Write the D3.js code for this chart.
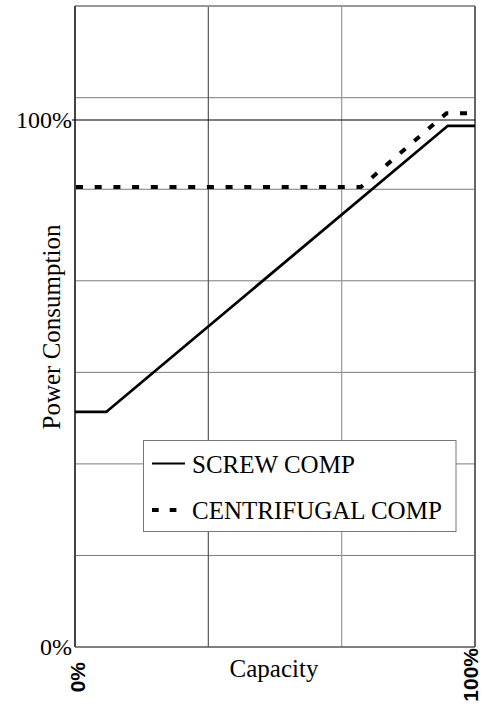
<!DOCTYPE html>
<html>
<head>
<meta charset="utf-8">
<script src="https://cdn.jsdelivr.net/npm/d3@7"></script>
<style>
html,body{margin:0;padding:0;background:#fff;}
svg{display:block;}
.serif{font-family:"Liberation Serif","DejaVu Serif","Noto Serif","Tinos","Times New Roman","Times","Nimbus Roman","FreeSerif",serif;}
.sansb{font-family:"Liberation Sans","DejaVu Sans",Arial,sans-serif;font-weight:bold;}
</style>
</head>
<body>
<svg id="chart" width="482" height="711"></svg>
<script>
// ---- data ----
const xTickValues = [0, 100];
const xTickLabels = ["0%", "100%"];
const yTickValues = [0, 100];
const yTickLabels = ["0%", "100%"];
const seriesNames = ["SCREW COMP", "CENTRIFUGAL COMP"];
const screwX = [0, 7.8, 93.2, 100];
const screwY = [44.6, 44.6, 98.9, 98.9];
const centX = [0, 71.5, 92.9, 100];
const centY = [87.3, 87.3, 101.3, 101.3];
const yAxisTop = 121.6;   // value at top of plot frame
const xTitle = "Capacity";
const yTitle = "Power Consumption";

// ---- layout ----
const L = 75, R = 475, T = 6, B = 647;
const svg = d3.select("#chart");
const x = d3.scaleLinear().domain([0, 100]).range([L, R]);
const y = d3.scaleLinear().domain([0, 100]).range([B, 120]);

// grid
const nRows = 7, nCols = 3;
const hGrid = d3.range(1, nRows).map(i => yAxisTop * i / nRows);
const vGrid = d3.range(1, nCols).map(i => 100 * i / nCols);
svg.append("g").selectAll("line").data(hGrid).join("line")
  .attr("x1", L).attr("x2", R).attr("y1", d => y(d)).attr("y2", d => y(d))
  .attr("stroke", "#7a7a7a").attr("stroke-width", 1);
svg.append("g").selectAll("line").data(vGrid).join("line")
  .attr("y1", T).attr("y2", B).attr("x1", d => x(d)).attr("x2", d => x(d))
  .attr("stroke", (d, i) => i === 0 ? "#555" : "#999").attr("stroke-width", 1.2);

// frame
svg.append("line").attr("x1", L).attr("x2", R).attr("y1", T).attr("y2", T).attr("stroke", "#999").attr("stroke-width", 2);
svg.append("line").attr("x1", R).attr("x2", R).attr("y1", T).attr("y2", B).attr("stroke", "#666").attr("stroke-width", 2);
svg.append("line").attr("x1", L).attr("x2", R).attr("y1", B).attr("y2", B).attr("stroke", "#555").attr("stroke-width", 1.5);
svg.append("line").attr("x1", L).attr("x2", L).attr("y1", T).attr("y2", B).attr("stroke", "#444").attr("stroke-width", 2);

// 100% reference line
svg.append("line").attr("x1", L - 3).attr("x2", R).attr("y1", y(100)).attr("y2", y(100))
  .attr("stroke", "#000").attr("stroke-width", 1.2);

// y tick labels
svg.append("g").selectAll("text").data(yTickValues).join("text")
  .attr("class", "serif")
  .attr("x", 72).attr("y", d => y(d)).attr("dy", "0.33em")
  .attr("text-anchor", "end")
  .attr("font-size", 24)
  .text((d, i) => yTickLabels[i]);

// x tick labels (rotated)
const xLabPos = [{bx: 85, end: 662}, {bx: 478, end: 648}];
svg.append("g").selectAll("text").data(xTickValues).join("text")
  .attr("class", "sansb")
  .attr("transform", (d, i) => `translate(${xLabPos[i].bx},${xLabPos[i].end}) rotate(-90)`)
  .attr("text-anchor", "end")
  .attr("font-size", 21)
  .text((d, i) => xTickLabels[i]);

// axis titles
svg.append("text").attr("class", "serif").attr("x", (L + R) / 2 - 1).attr("y", 677)
  .attr("text-anchor", "middle")
  .attr("font-size", 25).text(xTitle);
svg.append("text").attr("class", "serif").attr("transform", `translate(60,327) rotate(-90)`)
  .attr("text-anchor", "middle")
  .attr("font-size", 25).text(yTitle);

// series lines
const line = d3.line().x(d => x(d[0])).y(d => y(d[1]));
const screwPts = screwX.map((v, i) => [v, screwY[i]]);
const centPts = centX.map((v, i) => [v, centY[i]]);
svg.append("path").attr("d", line(centPts)).attr("fill", "none")
  .attr("stroke", "#000").attr("stroke-width", 4)
  .attr("stroke-dasharray", "7,11.7").attr("stroke-dashoffset", -1);
svg.append("path").attr("d", line(screwPts)).attr("fill", "none")
  .attr("stroke", "#000").attr("stroke-width", 2.8);

// legend
const lg = svg.append("g");
lg.append("rect").attr("x", 143.5).attr("y", 440.5).attr("width", 312.5).attr("height", 91)
  .attr("fill", "#fff").attr("stroke", "#777").attr("stroke-width", 1);
const legendStyles = [{dash: null, w: 2.2}, {dash: "6.7,11", w: 4}];
const lgRows = lg.selectAll("g").data(seriesNames).join("g")
  .attr("transform", (d, i) => `translate(0,${i === 0 ? 463.5 : 510})`);
lgRows.append("line").attr("x1", 152).attr("x2", (d, i) => i === 0 ? 185 : 177).attr("y1", 0).attr("y2", 0)
  .attr("stroke", "#000").attr("stroke-width", (d, i) => legendStyles[i].w)
  .attr("stroke-dasharray", (d, i) => legendStyles[i].dash);
lgRows.append("text").attr("class", "serif").attr("x", 192).attr("y", 9)
  .attr("font-size", 25).text(d => d);
</script>
</body>
</html>
